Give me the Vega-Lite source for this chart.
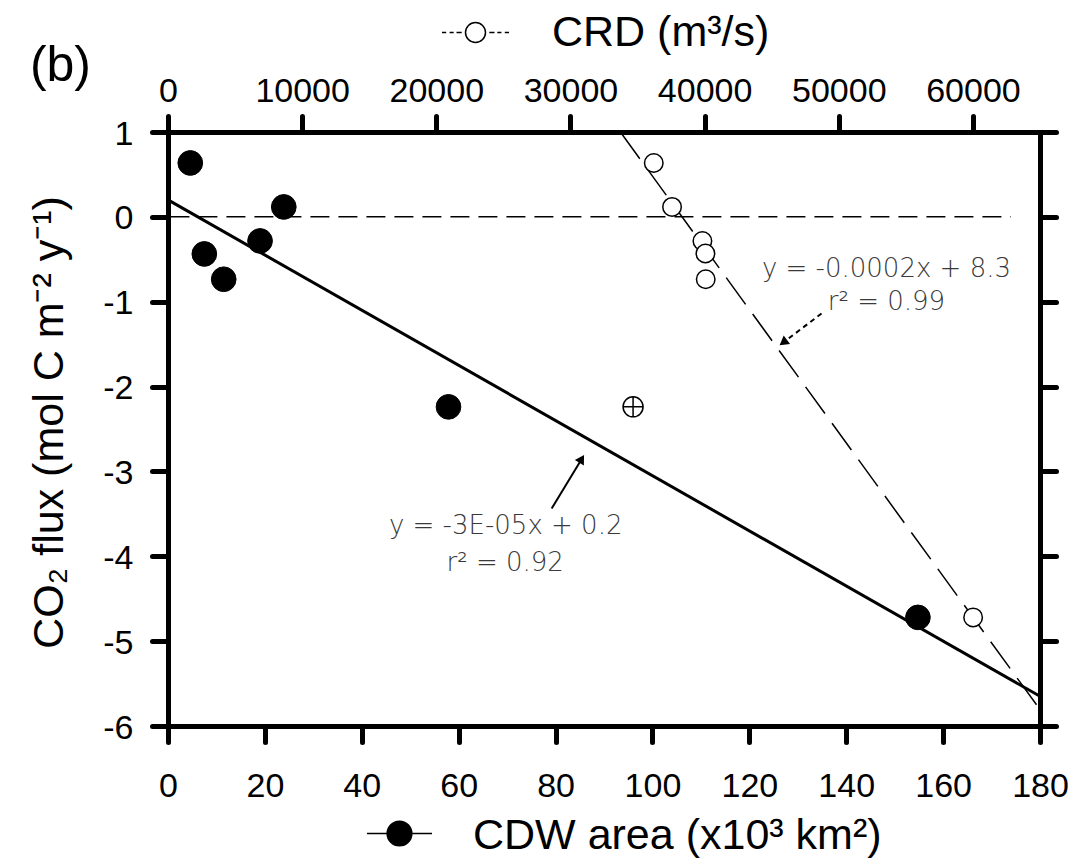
{
  "$schema": "https://vega.github.io/schema/vega-lite/v6.json",
  "width": 872,
  "height": 594,
  "autosize": {"type": "none"},
  "padding": {"left": 168, "top": 132, "right": 32, "bottom": 135},
  "background": "white",
  "config": {
    "view": {"stroke": null},
    "axis": {
      "domainColor": "black", "domainWidth": 5, "domainCap": "round",
      "tickColor": "black", "tickWidth": 5, "tickCap": "round", "tickSize": 16,
      "labelFont": "Liberation Sans", "labelFontSize": 34, "labelColor": "black",
      "grid": false, "labelOverlap": false, "labelFlush": false,
      "titleFont": "Liberation Sans", "titleFontWeight": "normal", "titleColor": "black"
    },
    "legend": {
      "labelFont": "Liberation Sans", "labelFontSize": 43, "labelColor": "black",
      "labelLimit": 2000, "padding": 0, "symbolOpacity": 1
    }
  },
  "resolve": {
    "scale": {"x": "independent", "y": "independent"},
    "axis": {"x": "independent", "y": "independent"}
  },
  "layer": [
    {
      "encoding": {
        "x": {
          "field": "area", "type": "quantitative",
          "scale": {"domain": [0, 180]},
          "axis": {"orient": "bottom", "values": [0, 20, 40, 60, 80, 100, 120, 140, 160, 180], "labelPadding": 27, "title": null}
        },
        "y": {
          "field": "flux", "type": "quantitative",
          "scale": {"domain": [-6, 1]},
          "axis": {
            "orient": "left", "values": [-6, -5, -4, -3, -2, -1, 0, 1], "labelPadding": 19, "labelOffset": 2,
            "labelExpr": "datum.value + ''",
            "title": "CO₂ flux (mol C m⁻² y⁻¹)", "titleFontSize": 43,
            "titleX": -119, "titleY": 290, "titleAngle": -90, "titleAlign": "center", "titleBaseline": "middle"
          }
        }
      },
      "layer": [
        {
          "data": {"values": [{"area": 0.5, "flux": 0}, {"area": 174, "flux": 0}]},
          "mark": {"type": "line", "color": "black", "strokeWidth": 1.5, "strokeDash": [19, 9]}
        },
        {
          "data": {"values": [{"area": 0, "flux": 0.2}, {"area": 180, "flux": -5.65}]},
          "mark": {"type": "line", "color": "black", "strokeWidth": 3}
        },
        {
          "data": {"values": [{"area": 79.2, "flux": -3.436, "area2": 85.4, "flux2": -2.853}]},
          "mark": {"type": "rule", "color": "black", "strokeWidth": 2},
          "encoding": {"x2": {"field": "area2"}, "y2": {"field": "flux2"}}
        },
        {
          "data": {"values": [{"area": 85.4, "flux": -2.853}]},
          "mark": {"type": "point", "shape": "triangle-up", "angle": 31.2, "size": 110, "filled": true, "color": "black", "opacity": 1}
        },
        {
          "data": {"values": [{"area": 134.9, "flux": -1.139, "area2": 127.0, "flux2": -1.481}]},
          "mark": {"type": "rule", "color": "black", "strokeWidth": 2, "strokeDash": [5, 4]},
          "encoding": {"x2": {"field": "area2"}, "y2": {"field": "flux2"}}
        },
        {
          "data": {"values": [{"area": 127.0, "flux": -1.481}]},
          "mark": {"type": "point", "shape": "triangle-up", "angle": 232.8, "size": 110, "filled": true, "color": "black", "opacity": 1}
        },
        {
          "data": {"values": [
            {"label": "y = -3E-05x + 0.2", "area": 69.7, "flux": -3.641},
            {"label": "r² = 0.92", "area": 69.6, "flux": -4.084},
            {"label": "y = -0.0002x + 8.3", "area": 148.3, "flux": -0.617},
            {"label": "r² = 0.99", "area": 148.3, "flux": -1.009}
          ]},
          "mark": {"type": "text", "font": "DejaVu Sans", "fontSize": 26, "fontWeight": 200, "color": "#3a3a3a", "align": "center", "baseline": "middle"},
          "encoding": {"text": {"field": "label"}}
        },
        {
          "data": {"values": [{"label": "(b)", "area": -22.2, "flux": 1.597}]},
          "mark": {"type": "text", "font": "Liberation Sans", "fontSize": 50, "color": "black", "align": "center", "baseline": "alphabetic"},
          "encoding": {"text": {"field": "label"}}
        },
        {
          "data": {"values": [{"area": 96.0, "flux": -2.239}]},
          "mark": {"type": "point", "shape": "M1 0A1 1 0 1 1 -1 0A1 1 0 1 1 1 0ZM-1 0L1 0M0 -1L0 1", "size": 400, "filled": false, "fill": "white", "stroke": "black", "strokeWidth": 1.5, "opacity": 1}
        },
        {
          "data": {"values": [
            {"area": 4.6, "flux": 0.635},
            {"area": 23.9, "flux": 0.117},
            {"area": 19.0, "flux": -0.284},
            {"area": 7.5, "flux": -0.437},
            {"area": 11.5, "flux": -0.735},
            {"area": 57.9, "flux": -2.239},
            {"area": 154.8, "flux": -4.72}
          ]},
          "mark": {"type": "point", "filled": true, "size": 610, "stroke": "black", "strokeWidth": 1, "opacity": 1},
          "encoding": {
            "fill": {
              "datum": "CDW area (x10³ km²)",
              "scale": {"range": ["black"]},
              "legend": {
                "orient": "none", "legendX": 210, "legendY": 680, "title": null,
                "symbolType": "M-2.63 0L2.63 0M1 0A1 1 0 1 1 -1 0A1 1 0 1 1 1 0Z",
                "symbolSize": 610, "symbolStrokeColor": "black", "symbolStrokeWidth": 1.5, "symbolFillColor": "black",
                "labelOffset": 52,
                "encode": {"labels": {"update": {"dy": {"value": 2}}}}
              }
            }
          }
        }
      ]
    },
    {
      "encoding": {
        "x": {
          "field": "crd", "type": "quantitative",
          "scale": {"domain": [0, 65000]},
          "axis": {"orient": "top", "values": [0, 10000, 20000, 30000, 40000, 50000, 60000], "format": "d", "labelPadding": 8, "title": null}
        },
        "y": {
          "field": "flux", "type": "quantitative",
          "scale": {"domain": [-6, 1]},
          "axis": {"orient": "right", "values": [-6, -5, -4, -3, -2, -1, 0, 1], "labels": false, "title": null}
        }
      },
      "layer": [
        {
          "data": {"values": [{"crd": 33723, "flux": 1}, {"crd": 65000, "flux": -5.806}]},
          "mark": {"type": "line", "color": "black", "strokeWidth": 1.5, "strokeDash": [33, 12]}
        },
        {
          "data": {"values": [
            {"crd": 36210, "flux": 0.635},
            {"crd": 37573, "flux": 0.117},
            {"crd": 39836, "flux": -0.284},
            {"crd": 40060, "flux": -0.432},
            {"crd": 40082, "flux": -0.735},
            {"crd": 60015, "flux": -4.72}
          ]},
          "mark": {"type": "point", "filled": false, "fill": "white", "size": 342, "strokeWidth": 1.5, "opacity": 1},
          "encoding": {
            "stroke": {
              "datum": "CRD (m³/s)",
              "scale": {"range": ["black"]},
              "legend": {
                "orient": "none", "legendX": 286, "legendY": -121, "title": null,
                "symbolType": "M-3.35 0L-2.93 0M-2.59 0L-2.18 0M-1.9 0L-1.38 0M1.38 0L1.9 0M2.18 0L2.59 0M2.93 0L3.35 0M1 0A1 1 0 1 1 -1 0A1 1 0 1 1 1 0Z",
                "symbolSize": 400, "symbolStrokeColor": "black", "symbolStrokeWidth": 1.5, "symbolFillColor": "white",
                "labelOffset": 55,
                "encode": {"labels": {"update": {"dy": {"value": 5}}}}
              }
            }
          }
        }
      ]
    }
  ]
}
